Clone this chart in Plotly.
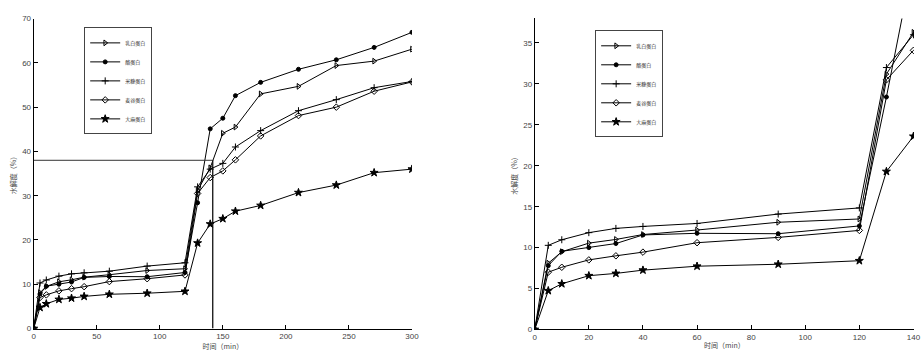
import plotly.graph_objects as go

time_min = [0, 5, 10, 20, 30, 40, 60, 90, 120, 130, 140, 150, 160, 180, 210, 240, 270, 300]

whey = [0, 8.1, 9.5, 10.55, 11.0, 11.6, 12.15, 13.1, 13.5, 31.2, 36.3, 44.1, 45.5, 53.0, 54.7, 59.4, 60.4, 63.1]
casein = [0, 7.8, 9.55, 10.0, 10.5, 11.55, 11.75, 11.7, 12.65, 28.4, 45.1, 47.5, 52.6, 55.6, 58.55, 60.7, 63.5, 66.9]
ricebran = [0, 10.28, 10.96, 11.83, 12.35, 12.59, 12.95, 14.1, 14.85, 32.0, 36.0, 37.3, 41.0, 44.7, 49.2, 51.7, 54.4, 55.8]
glutenin = [0, 7.0, 7.6, 8.5, 9.0, 9.45, 10.6, 11.25, 12.1, 30.5, 34.1, 35.6, 38.1, 43.5, 48.1, 50.0, 53.6, 55.7]
hemp = [0, 4.74, 5.58, 6.57, 6.85, 7.25, 7.73, 7.97, 8.4, 19.3, 23.6, 24.8, 26.5, 27.8, 30.7, 32.4, 35.2, 36.0]

series_names = ["乳白蛋白", "酪蛋白", "米糠蛋白", "麦谷蛋白", "大麻蛋白"]
series_values = [whey, casein, ricebran, glutenin, hemp]
series_symbols = ["triangle-right-open", "circle", "cross-thin-open", "diamond-open", "star"]
series_sizes = [5, 4, 5, 5, 6]

left_xticks = [0, 50, 100, 150, 200, 250, 300]
left_yticks = [0, 10, 20, 30, 40, 50, 60, 70]
right_xticks = [0, 20, 40, 60, 80, 100, 120, 140]
right_yticks = [0, 5, 10, 15, 20, 25, 30, 35]

ref_time = 142
ref_level = 38

CJK = "Noto Sans CJK SC"
TICKFONT = dict(family="Liberation Sans, Arial", size=8, color="#444")

fig = go.Figure()

for panel, (xa, ya, lg) in enumerate([("x", "y", "legend"), ("x2", "y2", "legend2")]):
    for name, vals, sym, sz in zip(series_names, series_values, series_symbols, series_sizes):
        fig.add_trace(go.Scatter(
            x=time_min, y=vals, name=name, mode="lines+markers",
            xaxis=xa, yaxis=ya, legend=lg,
            line=dict(color="black", width=1),
            marker=dict(symbol=sym, size=sz, color="black",
                        line=dict(color="black", width=1)),
        ))

# reference lines on the left panel
fig.add_shape(type="line", xref="x", yref="y", x0=0, x1=ref_time, y0=ref_level, y1=ref_level,
              line=dict(color="#333", width=1))
fig.add_shape(type="line", xref="x", yref="y", x0=ref_time, x1=ref_time, y0=0, y1=ref_level,
              line=dict(color="#111", width=1.3))

axis_common = dict(showgrid=False, zeroline=False, showline=True, linecolor="black", linewidth=1,
                   ticks="inside", ticklen=4, tickcolor="black", tickfont=TICKFONT, mirror=False,
                   ticklabeloverflow="allow")

fig.update_layout(
    width=921, height=353,
    margin=dict(l=0, r=0, t=0, b=0),
    paper_bgcolor="white", plot_bgcolor="white",
    xaxis=dict(domain=[32/921, 414/921], range=[0, 300], tickvals=left_xticks, anchor="y",
               title=dict(text="时间（min）", font=dict(family=CJK, size=7, color="#444"), standoff=2),
               **axis_common),
    yaxis=dict(domain=[20/353, 338/353], range=[0, 70], tickvals=left_yticks, anchor="x",
               title=dict(text="水解度（%）", font=dict(family=CJK, size=7, color="#444"), standoff=4),
               **axis_common),
    xaxis2=dict(domain=[538/921, 1.0], range=[0, 140.2], tickvals=right_xticks, anchor="y2",
                title=dict(text="时间（min）", font=dict(family=CJK, size=7, color="#444"), standoff=2),
                **axis_common),
    yaxis2=dict(domain=[19/353, 338.2/353], range=[0, 38], tickvals=right_yticks, anchor="x2",
                title=dict(text="水解度（%）", font=dict(family=CJK, size=7, color="#444"), standoff=4),
                **axis_common),
    legend=dict(x=83/921, y=1 - 24/353, xanchor="left", yanchor="top",
                bordercolor="#444", borderwidth=1, bgcolor="white",
                font=dict(family=CJK, size=5, color="#333"), itemwidth=30),
    legend2=dict(x=599/921, y=1 - 27/353, xanchor="left", yanchor="top",
                 bordercolor="#444", borderwidth=1, bgcolor="white",
                 font=dict(family=CJK, size=5, color="#333"), itemwidth=30),
)

fig.write_html("out.html")
